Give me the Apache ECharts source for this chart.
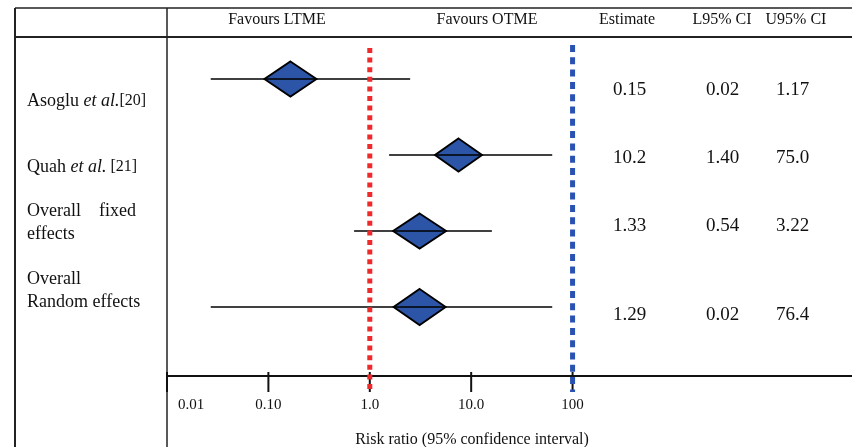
<!DOCTYPE html>
<html>
<head>
<meta charset="utf-8">
<script src="https://cdn.jsdelivr.net/npm/echarts@6.0.0/dist/echarts.min.js"></script>
<style>
  html, body { margin: 0; padding: 0; background: #ffffff; }
  #main { width: 852px; height: 447px; }
</style>
</head>
<body>
<div id="main"></div>
<script>
// ---------------- data ----------------
const studies = ['Asoglu et al.[20]', 'Quah et al. [21]', 'Overall fixed effects', 'Overall Random effects'];
// plotted positions
const estimates = [0.165, 7.5, 3.1, 3.1];
const lowerCI = [0.027, 1.55, 0.70, 0.027];
const upperCI = [2.5, 63, 16, 63];
// printed table columns
const estimateText = ['0.15', '10.2', '1.33', '1.29'];
const lowerText = ['0.02', '1.40', '0.54', '0.02'];
const upperText = ['1.17', '75.0', '3.22', '76.4'];
// axis
const tickValues = [0.01, 0.1, 1, 10, 100];
const tickLabels = ['0.01', '0.10', '1.0', '10.0', '100'];
const refValues = [1, 100];
const headerLabels = ['Favours LTME', 'Favours OTME', 'Estimate', 'L95% CI', 'U95% CI'];
const axisTitle = 'Risk ratio (95% confidence interval)';

// ---------------- styles / layout ----------------
const FONT = '"Liberation Serif", "Times New Roman", serif';
const refStyles = [
  { color: '#f02a2a', dash: [5, 4.6], top: 11 },
  { color: '#2a52b3', dash: [7, 5.3], top: 8 }
];
const diamondSizes = [[52, 35], [47, 33], [53, 35], [52, 36]];
const headerX = [277, 487, 627, 722, 796];
const valueColX = [613, 706, 776];
const rowTextY = [90, 158, 226, 315];

const chart = echarts.init(document.getElementById('main'), null, { renderer: 'canvas' });

function txt(text, x, y, size, align, extra) {
  return Object.assign({
    type: 'text',
    silent: true,
    style: {
      text: text, x: x, y: y,
      font: size + 'px ' + FONT,
      fill: '#111',
      align: align, textAlign: align,
      verticalAlign: 'middle', textVerticalAlign: 'middle'
    }
  }, extra || {});
}

const graphics = [];
// table frame
graphics.push({ type: 'line', silent: true, shape: { x1: 15, y1: 8, x2: 852, y2: 8 }, style: { stroke: '#222', lineWidth: 1.5 } });
graphics.push({ type: 'line', silent: true, shape: { x1: 15, y1: 37, x2: 852, y2: 37 }, style: { stroke: '#222', lineWidth: 2 } });
graphics.push({ type: 'line', silent: true, shape: { x1: 15, y1: 8, x2: 15, y2: 447 }, style: { stroke: '#222', lineWidth: 2 } });
graphics.push({ type: 'line', silent: true, shape: { x1: 167, y1: 8, x2: 167, y2: 447 }, style: { stroke: '#222', lineWidth: 1.5 } });
// headers
headerLabels.forEach((h, i) => graphics.push(txt(h, headerX[i], 20, 16, 'center')));
// axis title
graphics.push(txt(axisTitle, 472, 440, 16, 'center'));
// row labels (left column)
const rich = {
  n: { fontSize: 18, fontFamily: FONT, fill: '#111' },
  i: { fontSize: 18, fontFamily: FONT, fontStyle: 'italic', fill: '#111' },
  r: { fontSize: 16, fontFamily: FONT, fill: '#111' }
};
graphics.push({ type: 'text', silent: true, style: { text: '{n|Asoglu }{i|et al.}{r|[20]}', rich: rich, x: 27, y: 101, align: 'left', verticalAlign: 'middle', textAlign: 'left', textVerticalAlign: 'middle' } });
graphics.push({ type: 'text', silent: true, style: { text: '{n|Quah }{i|et al.}{r| [21]}', rich: rich, x: 27, y: 167, align: 'left', verticalAlign: 'middle', textAlign: 'left', textVerticalAlign: 'middle' } });
graphics.push({ type: 'text', silent: true, style: { text: 'Overall    fixed\neffects', x: 27, y: 223, font: '18px ' + FONT, lineHeight: 23, fill: '#111', align: 'left', verticalAlign: 'middle', textAlign: 'left', textVerticalAlign: 'middle' } });
graphics.push({ type: 'text', silent: true, style: { text: 'Overall\nRandom effects', x: 27, y: 291, font: '18px ' + FONT, lineHeight: 23, fill: '#111', align: 'left', verticalAlign: 'middle', textAlign: 'left', textVerticalAlign: 'middle' } });
// value columns
[estimateText, lowerText, upperText].forEach((col, c) => {
  col.forEach((t, r) => graphics.push(txt(t, valueColX[c], rowTextY[r], 19, 'left')));
});

const option = {
  animation: false,
  backgroundColor: '#ffffff',
  grid: [
    { left: 167, right: 0, top: 37, bottom: 71 },
    { left: 167, right: 0, top: 41, bottom: 102 }
  ],
  xAxis: [
    {
      type: 'log', logBase: 10, gridIndex: 0, min: 0.01, max: 57000,
      axisLine: { show: true, onZero: false, lineStyle: { color: '#111', width: 2 } },
      axisTick: { show: false }, axisLabel: { show: false }, splitLine: { show: false }
    },
    {
      type: 'log', logBase: 10, gridIndex: 1, min: 0.01, max: 57000, show: false,
      splitLine: { show: false }
    }
  ],
  yAxis: [
    { type: 'value', gridIndex: 0, min: 0, max: 1, show: false, splitLine: { show: false } },
    { type: 'category', gridIndex: 1, data: studies, inverse: true, show: false }
  ],
  graphic: { elements: graphics },
  series: [
    {
      // axis ticks + labels
      type: 'custom', xAxisIndex: 0, yAxisIndex: 0, clip: false, silent: true, z: 3,
      data: tickValues.map(v => [v, 0]),
      encode: { x: 0, y: 1 },
      renderItem: function (params, api) {
        const i = params.dataIndex;
        const p = api.coord([api.value(0), api.value(1)]);
        const lx = i === 0 ? p[0] + 11 : p[0];
        const al = i === 0 ? 'left' : 'center';
        return {
          type: 'group',
          children: [
            { type: 'line', shape: { x1: p[0], y1: p[1] - 4, x2: p[0], y2: p[1] + 16 }, style: { stroke: '#111', lineWidth: 2 } },
            { type: 'text', style: { text: tickLabels[i], x: lx, y: p[1] + 29, font: '15px ' + FONT, fill: '#111', align: al, textAlign: al, verticalAlign: 'middle', textVerticalAlign: 'middle' } }
          ]
        };
      }
    },
    {
      // reference lines at RR = 1 and RR = 100
      type: 'custom', xAxisIndex: 0, yAxisIndex: 0, clip: false, silent: true, z: 6,
      data: refValues.map(v => [v, 0]),
      encode: { x: 0, y: 1 },
      renderItem: function (params, api) {
        const i = params.dataIndex;
        const st = refStyles[i];
        const p = api.coord([api.value(0), 0]);
        const cs = params.coordSys;
        return {
          type: 'line',
          shape: { x1: p[0], y1: cs.y + st.top, x2: p[0], y2: cs.y + cs.height + 16 },
          style: { stroke: st.color, lineWidth: 5, lineDash: st.dash, lineCap: 'butt' }
        };
      }
    },
    {
      // diamonds (point estimates)
      type: 'scatter', xAxisIndex: 1, yAxisIndex: 1, silent: true, z: 3,
      symbol: 'diamond',
      data: estimates.map((v, i) => ({ value: [v, i], symbolSize: diamondSizes[i] })),
      itemStyle: { color: '#2c55a8', borderColor: '#000', borderWidth: 2, opacity: 1 }
    },
    {
      // confidence interval lines
      type: 'custom', xAxisIndex: 1, yAxisIndex: 1, clip: false, silent: true, z: 4,
      data: studies.map((s, i) => [lowerCI[i], upperCI[i], i]),
      encode: { x: [0, 1], y: 2 },
      renderItem: function (params, api) {
        const a = api.coord([api.value(0), api.value(2)]);
        const b = api.coord([api.value(1), api.value(2)]);
        return {
          type: 'line',
          shape: { x1: a[0], y1: a[1], x2: b[0], y2: b[1] },
          style: { stroke: '#000', lineWidth: 1.5 }
        };
      }
    }
  ]
};
chart.setOption(option);
</script>
</body>
</html>
